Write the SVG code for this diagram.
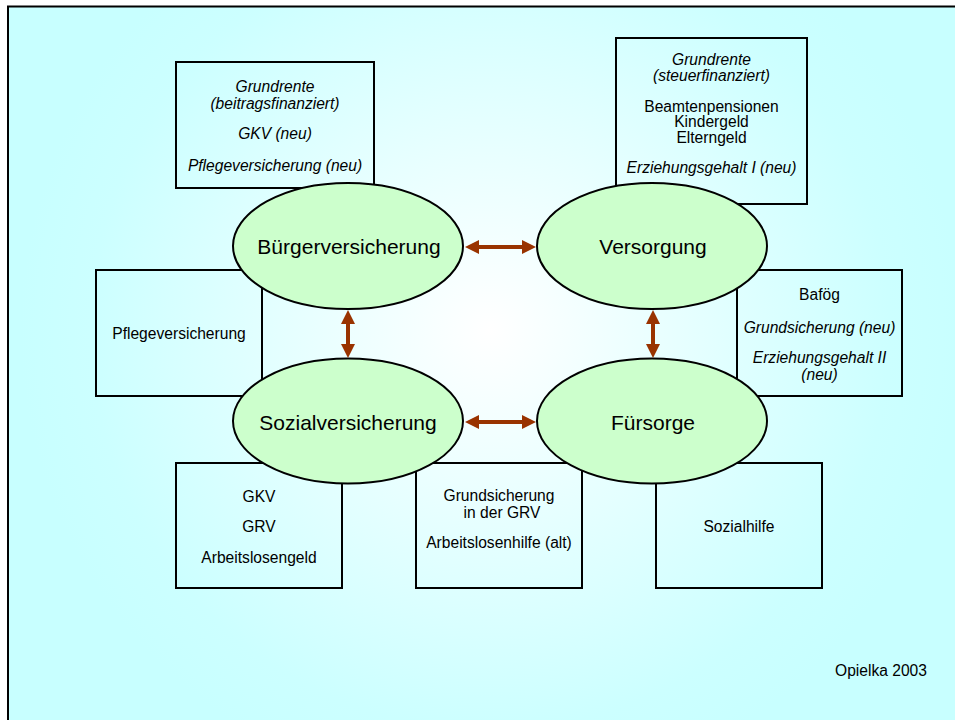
<svg xmlns="http://www.w3.org/2000/svg" width="955" height="720" viewBox="0 0 955 720">
<defs>
<radialGradient id="bg" gradientUnits="userSpaceOnUse" cx="490" cy="330" r="470">
<stop offset="0" stop-color="#ffffff"/>
<stop offset="0.85" stop-color="#ccffff"/>
<stop offset="1" stop-color="#c8ffff"/>
</radialGradient>
<marker id="ah" viewBox="0 0 14 14" refX="0" refY="7" markerWidth="14" markerHeight="14" markerUnits="userSpaceOnUse" orient="auto-start-reverse">
<path d="M0,0 L14,7 L0,14 z" fill="#993300"/>
</marker>
</defs>
<style>
.box{fill:none;stroke:#000;stroke-width:2}
.ell{fill:#ccffcc;stroke:#000;stroke-width:2}
text{font-family:"Liberation Sans",Arial,sans-serif;fill:#000;text-anchor:middle}
.t{font-size:15.6px}
.i{font-size:15.6px;font-style:italic}
.big{font-size:21px}
.conn{stroke:#993300;stroke-width:4;fill:none;marker-start:url(#ah);marker-end:url(#ah)}
</style>
<rect x="0" y="0" width="955" height="720" fill="#ffffff"/>
<rect x="8" y="6.5" width="960" height="730" fill="url(#bg)" stroke="#000" stroke-width="2"/>

<g id="box-buergerversicherung">
<rect class="box" x="176" y="62" width="198" height="126"/>
<text class="i" x="275" y="91.5">Grundrente</text>
<text class="i" x="275" y="108.5">(beitragsfinanziert)</text>
<text class="i" x="275" y="138.5">GKV (neu)</text>
<text class="i" x="275" y="170.5">Pflegeversicherung (neu)</text>
</g>
<g id="box-versorgung">
<rect class="box" x="616" y="38" width="191" height="166"/>
<text class="i" x="711.5" y="65">Grundrente</text>
<text class="i" x="711.5" y="81">(steuerfinanziert)</text>
<text class="t" x="711.5" y="111.5">Beamtenpensionen</text>
<text class="t" x="711.5" y="127">Kindergeld</text>
<text class="t" x="711.5" y="143">Elterngeld</text>
<text class="i" x="711.5" y="172.5">Erziehungsgehalt I (neu)</text>
</g>
<g id="box-pflege">
<rect class="box" x="96" y="270" width="166" height="126"/>
<text class="t" x="179" y="338.5">Pflegeversicherung</text>
</g>
<g id="box-fuersorge-oben">
<rect class="box" x="737" y="270" width="165" height="126"/>
<text class="t" x="819.5" y="299.5">Bafög</text>
<text class="i" x="819.5" y="332.5">Grundsicherung (neu)</text>
<text class="i" x="819.5" y="362.5">Erziehungsgehalt II</text>
<text class="i" x="819.5" y="379.5">(neu)</text>
</g>
<g id="box-sozialversicherung">
<rect class="box" x="176" y="463" width="166" height="125"/>
<text class="t" x="259" y="501.5">GKV</text>
<text class="t" x="259" y="531.5">GRV</text>
<text class="t" x="259" y="562.5">Arbeitslosengeld</text>
</g>
<g id="box-grundsicherung">
<rect class="box" x="416" y="463" width="166" height="125"/>
<text class="t" x="499" y="500.5">Grundsicherung</text>
<text class="t" x="502" y="517.5">in der GRV</text>
<text class="t" x="499" y="547.5">Arbeitslosenhilfe (alt)</text>
</g>
<g id="box-sozialhilfe">
<rect class="box" x="656" y="463" width="166" height="125"/>
<text class="t" x="739" y="531.5">Sozialhilfe</text>
</g>

<g id="node-buergerversicherung">
<ellipse class="ell" cx="348" cy="246" rx="115" ry="63"/>
<text class="big" x="349" y="254">Bürgerversicherung</text>
</g>
<g id="node-versorgung">
<ellipse class="ell" cx="652" cy="246" rx="115" ry="63"/>
<text class="big" x="653" y="254">Versorgung</text>
</g>
<g id="node-sozialversicherung">
<ellipse class="ell" cx="348" cy="421" rx="115" ry="62.5"/>
<text class="big" x="348" y="430">Sozialversicherung</text>
</g>
<g id="node-fuersorge">
<ellipse class="ell" cx="652" cy="421" rx="115" ry="62.5"/>
<text class="big" x="653" y="430">Fürsorge</text>
</g>

<g id="connectors">
<path class="conn" d="M479,247 L522,247"/>
<path class="conn" d="M479,422 L522,422"/>
<path class="conn" d="M348,324 L348,344"/>
<path class="conn" d="M653,324 L653,344"/>
</g>

<text class="t" x="881" y="675.5">Opielka 2003</text>
</svg>
